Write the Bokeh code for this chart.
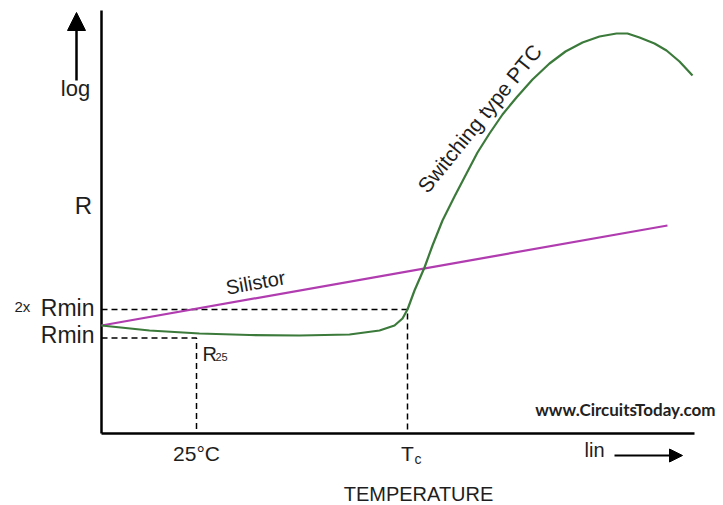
from bokeh.plotting import figure
from bokeh.models import Range1d, Arrow, NormalHead
from bokeh.core.properties import value
from bokeh.embed import file_html
from bokeh.resources import INLINE

# ---- data (schematic units: temperature on x, log R on y) ----
ptc_temp = [0, 48, 98, 148, 198, 248, 278, 293, 301, 306, 313, 323, 331, 341, 353, 365,
            376, 388, 401, 415, 431, 448, 464, 481, 498, 515, 526, 538, 553, 565, 578, 591]
ptc_logr = [108, 103, 100, 98.5, 98, 99, 103, 108, 115, 124, 143, 166, 188, 213, 237, 260,
            281, 300, 319, 336, 354, 370, 382, 391, 397, 400, 400, 396, 390, 383, 372, 358]
silistor_temp = [0, 566]
silistor_logr = [108, 208]
T25 = 95          # 25 °C position on temperature axis
TC = 306          # switching temperature Tc
RMIN = 95.5       # Rmin level
R2MIN = 124       # 2x Rmin level
X_AXIS_END = 593
Y_AXIS_END = 423

FONT = value("Liberation Sans")
TXT = "#1e1e1e"

p = figure(width=723, height=505, x_range=Range1d(-101, 622), y_range=Range1d(-72, 433),
           output_backend="svg", toolbar_location=None, min_border=0,
           x_axis_location=None, y_axis_location=None)
p.grid.visible = False
p.outline_line_color = None
p.background_fill_color = "white"

# axes lines
p.line([0, 0], [0, Y_AXIS_END], line_color="black", line_width=2.5)
p.line([0, X_AXIS_END], [0, 0], line_color="black", line_width=2.5)

# dashed guide lines
p.line([0, TC, TC], [R2MIN, R2MIN, 0], line_color="black", line_width=1.5, line_dash="6 4")
p.line([0, T25, T25], [RMIN, RMIN, 0], line_color="black", line_width=1.5, line_dash="6 4")

# curves
p.line(silistor_temp, silistor_logr, line_color="#b03cb0", line_width=2.2)
p.line(ptc_temp, ptc_logr, line_color="#3b7a3b", line_width=2.2, line_join="round")

# arrows
p.add_layout(Arrow(end=NormalHead(size=18, fill_color="black", line_color="black"),
                   x_start=-25, y_start=353, x_end=-25, y_end=421,
                   line_color="black", line_width=2.5))
p.add_layout(Arrow(end=NormalHead(size=13, fill_color="black", line_color="black"),
                   x_start=513, y_start=-22, x_end=581, y_end=-22,
                   line_color="black", line_width=2))

SHIFT = 9  # compensates baseline rendering offset

def txt(x, y, s, size, align="left", baseline="alphabetic", angle=0, style="normal", font=FONT, color=TXT):
    if baseline == "alphabetic":
        y = y + SHIFT
    p.text(x=[x], y=[y], text=[s], text_font=font, text_font_size=f"{size}px",
           text_align=align, text_baseline=baseline, angle=angle, text_color=color,
           text_font_style=style)

txt(-26, 336, "log", 22, align="center")
txt(-18, 219, "R", 24, align="center")
txt(-87, 118, "2x", 15)
txt(-7, 117, "Rmin", 23, align="right")
txt(-7, 90, "Rmin", 23, align="right")
txt(101, 71, "R", 20)
txt(114, 68, "25", 11)
txt(T25, -29, "25°C", 21, align="center")
txt(TC, -29, "T", 21, align="center")
txt(TC + 7, -34, "c", 14)
txt(317, -69, "TEMPERATURE", 20, align="center")
txt(483, -25, "lin", 20)
txt(614, 15, "www.CircuitsToday.com", 17, align="right", style="bold", font=value("Lato"), color="#222222")
txt(154, 151, "Silistor", 20, align="center", baseline="middle", angle=0.178)
txt(378, 315, "Switching type PTC", 21, align="center", baseline="middle", angle=0.89)

open("out.html", "w").write(file_html(p, INLINE))
